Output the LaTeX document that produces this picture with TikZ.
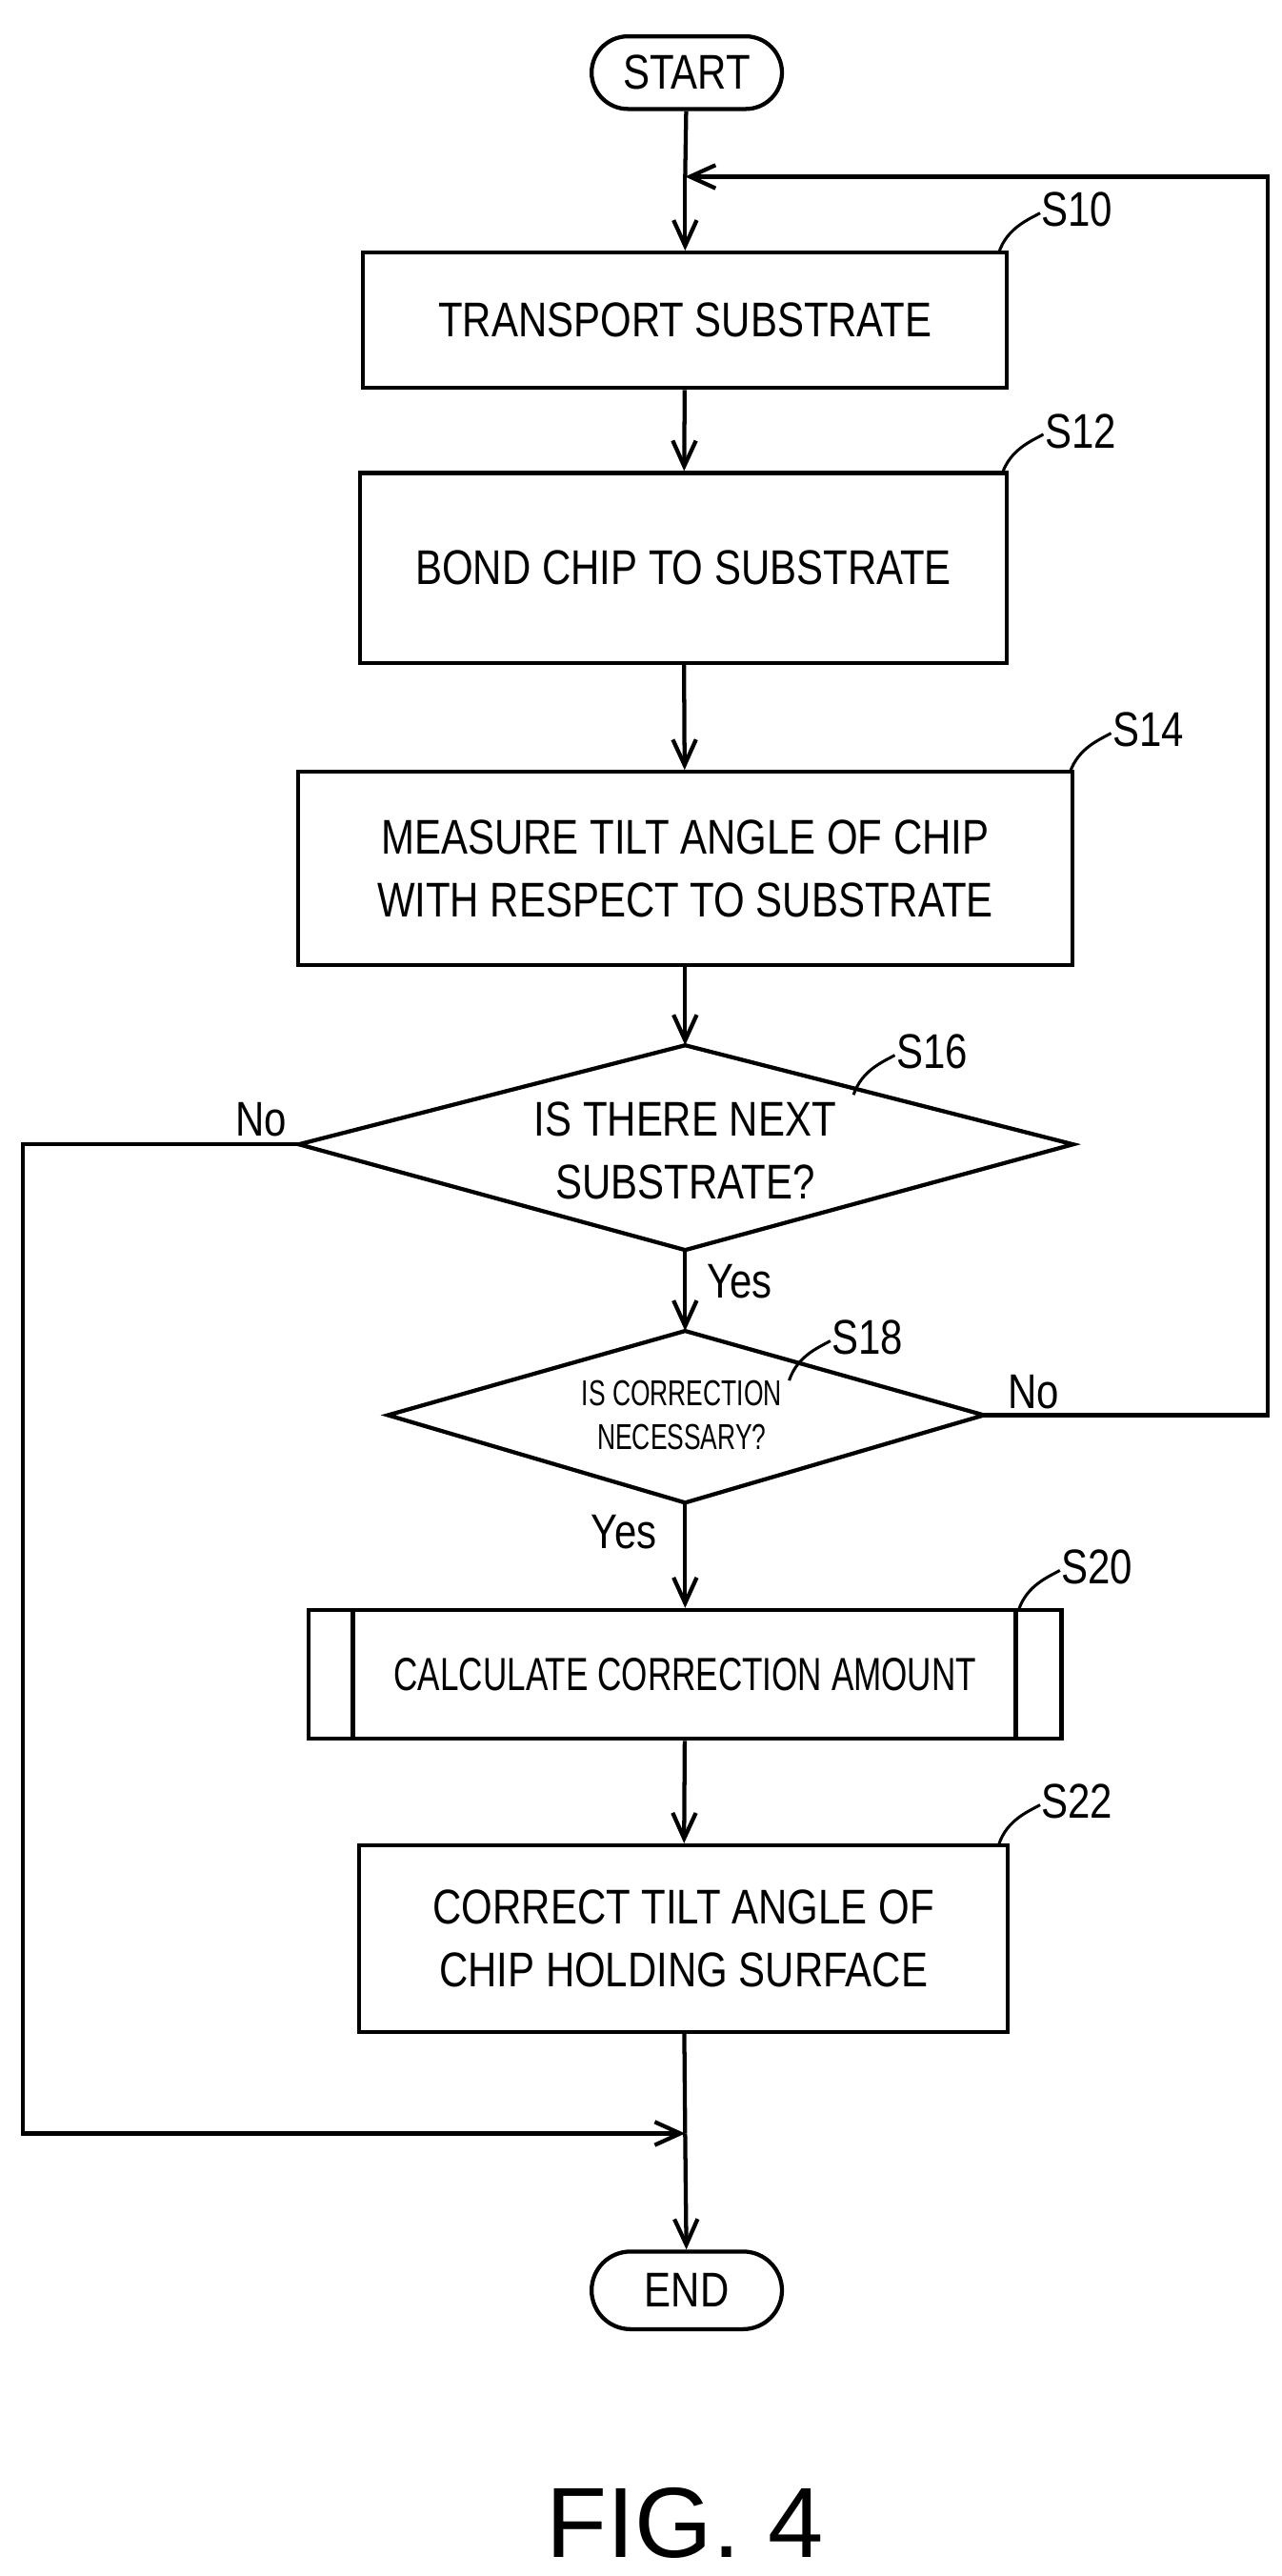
\documentclass[tikz,border=0pt]{standalone}
\usepackage{fontspec}
\setmainfont{Liberation Sans}[FakeStretch=0.82]
\newfontfamily\figfont{Liberation Sans}
\usetikzlibrary{arrows.meta,shapes.geometric,shapes.misc}
\begin{document}
\begin{tikzpicture}[x=0.05cm,y=-0.05cm,line width=3.5pt,
  lab/.style={font=\fontsize{42}{46}\selectfont},
  arr/.style={-{Straight Barb[length=22pt,width=20pt,line width=3.5pt]}}]
\useasboundingbox (0,0) rectangle (776,1560);
\node[draw,rounded rectangle,minimum width=6cm,minimum height=2.2cm,font=\fontsize{42}{50}\selectfont] (start) at (416,44) {START};
\node[draw,minimum width=19.5cm,minimum height=4.1cm,font=\fontsize{42}{50}\selectfont] (s10) at (415,194) {TRANSPORT SUBSTRATE};
\node[draw,minimum width=19.6cm,minimum height=5.75cm,font=\fontsize{42}{50}\selectfont] (s12) at (414,344) {BOND CHIP TO SUBSTRATE};
\node[draw,minimum width=23.45cm,minimum height=5.85cm,align=center,font=\fontsize{42}{54}\selectfont] (s14) at (415,526) {MEASURE TILT ANGLE OF CHIP\\WITH RESPECT TO SUBSTRATE};
\coordinate (d1t) at (415,633); \coordinate (d1b) at (415,757);
\coordinate (d1l) at (181,693); \coordinate (d1r) at (650,693);
\draw (d1t)--(d1r)--(d1b)--(d1l)--cycle;
\node[align=center,font=\fontsize{42}{54}\selectfont] (s16) at (415,697) {IS THERE NEXT\\SUBSTRATE?};
\coordinate (d2t) at (415,806); \coordinate (d2b) at (415,910);
\coordinate (d2l) at (235,857); \coordinate (d2r) at (596,857);
\draw (d2t)--(d2r)--(d2b)--(d2l)--cycle;
\node[align=center,font=\fontsize{31}{38}\selectfont] (s18) at (413,857) {\addfontfeatures{FakeStretch=0.7}IS CORRECTION\\\addfontfeatures{FakeStretch=0.7}NECESSARY?};
\node[draw,minimum width=22.8cm,minimum height=3.9cm,font=\fontsize{40}{50}\selectfont] (s20) at (415,1014) {\addfontfeatures{FakeStretch=0.72}CALCULATE CORRECTION AMOUNT};
\draw ([xshift=1.4cm]s20.north west)--([xshift=1.4cm]s20.south west);
\draw ([xshift=-1.45cm]s20.north east)--([xshift=-1.45cm]s20.south east);
\node[draw,minimum width=19.65cm,minimum height=5.65cm,align=center,font=\fontsize{42}{54}\selectfont] (s22) at (414,1174) {CORRECT TILT ANGLE OF\\CHIP HOLDING SURFACE};
\node[draw,rounded rectangle,minimum width=6cm,minimum height=2.35cm,font=\fontsize{42}{50}\selectfont] (end) at (416,1387) {END};
\coordinate (j1) at (415,107); \coordinate (j2) at (415,1292);
\coordinate (r1) at (768,857); \coordinate (r2) at (768,107);
\coordinate (l1) at (14,693); \coordinate (l2) at (14,1292);
\draw (start)--(j1); \draw[arr] (j1)--(s10.north);
\draw[arr] (s10)--(s12); \draw[arr] (s12)--(s14); \draw[arr] (s14)--(d1t);
\draw[arr] (d1b)--(d2t); \draw[arr] (d2b)--(s20); \draw[arr] (s20)--(s22);
\draw (s22)--(j2); \draw[arr] (j2)--(end);
\draw[arr] (d2r)--(r1)--(r2)--(j1);
\draw[arr] (d1l)--(l1)--(l2)--(j2);
\node[lab] (n1) at (158,678) {No};
\node[lab] (n2) at (626,843) {No};
\node[lab] (y1) at (448,776) {Yes};
\node[lab] (y2) at (378,928) {Yes};
\foreach \n/\x/\y/\t in {a/605/153/S10, b/607/287/S12, c/648/468/S14, d/517/663/S16, e/478/836/S18, f/617/975/S20, g/605/1117/S22}{
  \draw[line width=2.5pt] (\x,\y) .. controls (\x+5,\y-15) and (\x+18,\y-20) .. (\x+25,\y-24);
  \node[lab,anchor=west,inner sep=1pt] (lab\n) at (\x+24,\y-26) {\t};
}
\node[font=\figfont\fontsize{86}{90}\selectfont] (fig) at (415,1528) {FIG. 4};
\end{tikzpicture}
\end{document}
